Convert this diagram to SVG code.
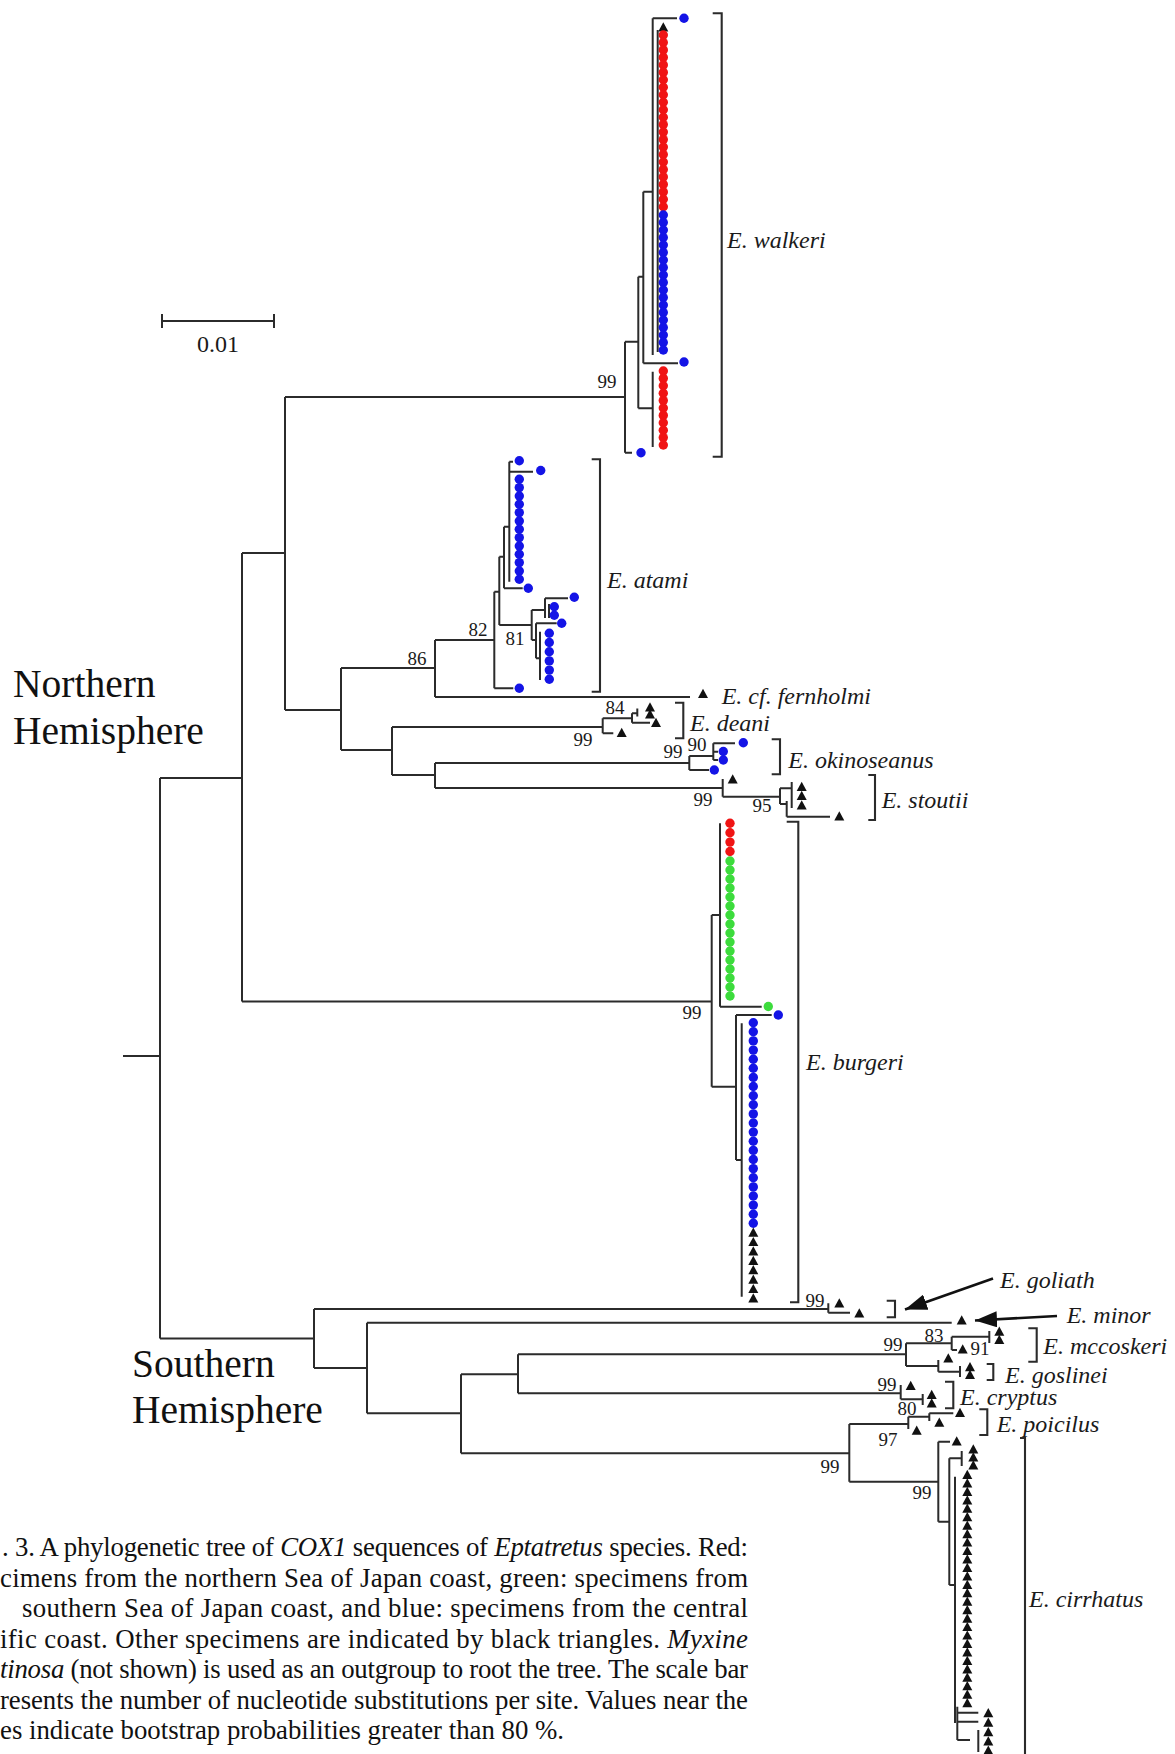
<svg xmlns="http://www.w3.org/2000/svg" xmlns:xlink="http://www.w3.org/1999/xlink" width="1175" height="1754" viewBox="0 0 1175 1754">
<style>
.br{fill:none;stroke:#2b2b2b;stroke-width:2}
.bk{fill:none;stroke:#2b2b2b;stroke-width:2.1}
.r{fill:#f01414}.b{fill:#1414e6}.g{fill:#3cdc3c}.k{fill:#111}
.sp{font-family:"Liberation Serif",serif;font-style:italic;font-size:24px;fill:#1a1a1a}
.bs{font-family:"Liberation Serif",serif;font-size:19px;fill:#1a1a1a;text-anchor:middle}
.hm{font-family:"Liberation Serif",serif;font-size:39.5px;fill:#111}
.cap{font-family:"Liberation Serif",serif;font-size:26.8px;fill:#111}
.it{font-style:italic}
.ar{fill:none;stroke:#111;stroke-width:2.6}
</style>
<defs>
<circle id="d" r="4.7"/>
<path id="t" d="M0,-5.2 L5,4 L-5,4Z"/>
<marker id="ah" markerUnits="userSpaceOnUse" markerWidth="24" markerHeight="16" refX="22" refY="8" orient="auto"><path d="M0,0 L22,8 L0,16Z" fill="#111"/></marker>
</defs>
<rect width="1175" height="1754" fill="#fff"/>

<g id="connectors" class="br">
<path d="M123,1056H160M160,778V1338.5M160,778H242M242,553V1001.5M242,553H285M285,397V710M285,397H625M285,710H341M341,668V750M341,668H435M435,640V697M435,640H494.3M435,697H690M341,750H392M392,727V775M392,727H602.7M392,775H435M435,763V788M435,763H689.3M435,788H722.7M242,1001.5H711.7"/>
<path d="M625,341.7V452.7M625,341.7H638.3M625,452.7H632M638.3,276.7V408.3M638.3,276.7H643.3M638.3,408.3H652.7M652.7,371.7V447M643.3,191.7V363.3M643.3,191.7H652.7M643.3,363.3H678M652.7,18.3V355M652.7,18.3H677M657.7,30V352"/>
<path d="M494.3,591.7V688.3M494.3,591.7H499.3M494.3,688.3H513.3M499.3,556.7V625M499.3,556.7H504M499.3,625H531.7M504,526.7V588.3M504,526.7H509.3M504,588.3H522.7M509.3,461.7V581.7M509.3,461.7H513M509.3,471.7H533M531.7,610V640M531.7,610H545M531.7,640H536M545,598.3V618M545,598.3H568M549,604V618M536,623.3V658.3M536,623.3H556.7M536,658.3H540M540,631.7V680"/>
<path d="M602.7,718.3V733.3M602.7,733.3H613.3M602.7,718.3H632M632,713.3V722.7M632,713.3H637.3M637.3,708.5V716.5M632,722.7H650"/>
<path d="M689.3,756V770M689.3,756H713.3M689.3,770H709M713.3,743.3V760M713.3,743.3H735M713.3,751.7H718M713.3,760H718"/>
<path d="M722.7,779V796.7M722.7,796.7H780M780,788.3V804M780,788.3H791.7M791.7,782V808M780,804H786.7M786.7,801V816.7M786.7,816.7H830"/>
<path d="M711.7,915V1086.7M711.7,915H720M720,823.3V1006.7M720,1006.7H761.7M711.7,1086.7H736M736,1015V1160M736,1015H771.7M736,1160H741.7M741.7,1023.3V1296.7"/>
<path d="M160,1338.5H314M314,1309V1368M314,1309H828.3M828.3,1303.3V1312.7M828.3,1312.7H850M314,1368H367M367,1322.7V1413.3M367,1322.7H951.7M367,1413.3H461M461,1374.3V1453.3M461,1374.3H518M518,1354.3V1393.3M518,1354.3H906M906,1343.3V1366M906,1343.3H951.7M951.7,1336.7V1350M951.7,1336.7H989.3M989.3,1331V1343M951.7,1350H957M906,1366H938.3M938.3,1360V1371.7M938.3,1371.7H960M960,1366V1377M518,1393.3H900.7M900.7,1385V1399.3M900.7,1399.3H922.7M922.7,1394V1405M461,1453.3H849.3M849.3,1424V1481.7M849.3,1424H908.3M908.3,1416.7V1429M908.3,1416.7H929.3M929.3,1413.3V1421M929.3,1413.3H953.3M849.3,1481.7H938.3M938.3,1441.7V1521.7M938.3,1441.7H950M938.3,1521.7H949.3M949.3,1458.3V1585M949.3,1458.3H961.7M961.7,1451V1466M949.3,1585H955M955,1476.7V1723M957.3,1706.7V1740M957.3,1712.7H978.3M957.3,1721.7H978.3M957.3,1740H970M978.3,1730V1752"/>
<path d="M162,321H274M162,314V328M274,314V328"/>
</g>

<g id="brackets" class="bk">
<path d="M712.7,13.3H721.7V456.7H712.7"/>
<path d="M591.7,459.3H600V691.7H591.7"/>
<path d="M675,702.7H683.3V738.3H675"/>
<path d="M771.7,739.3H780V774.3H771.7"/>
<path d="M868.3,775H875V820H868.3"/>
<path d="M786.7,821.7H798.3V1302.3H790"/>
<path d="M886.7,1300.7H895V1317.3H886.7"/>
<path d="M1028.3,1328.3H1036.7V1361.7H1028.3"/>
<path d="M986.7,1364H993.3V1380H986.7"/>
<path d="M945,1381.7H953.3V1408.3H945"/>
<path d="M979.3,1409.3H987.3V1435H979.3"/>
<path d="M1020,1438H1025V1754"/>
</g>

<g id="arrows">
<path class="ar" d="M993,1278.5L905,1309.5" marker-end="url(#ah)"/>
<path class="ar" d="M1057,1316L975,1320.5" marker-end="url(#ah)"/>
</g>

<g id="walkeri">
<use href="#d" class="b" x="684" y="18.3"/>
<use href="#t" class="k" x="663.3" y="27.5"/>
<g class="r">
<use href="#d" x="663.3" y="35"/><use href="#d" x="663.3" y="42.5"/><use href="#d" x="663.3" y="49.9"/><use href="#d" x="663.3" y="57.4"/><use href="#d" x="663.3" y="64.9"/><use href="#d" x="663.3" y="72.4"/><use href="#d" x="663.3" y="79.8"/><use href="#d" x="663.3" y="87.3"/><use href="#d" x="663.3" y="94.8"/><use href="#d" x="663.3" y="102.2"/><use href="#d" x="663.3" y="109.7"/><use href="#d" x="663.3" y="117.2"/><use href="#d" x="663.3" y="124.6"/><use href="#d" x="663.3" y="132.1"/><use href="#d" x="663.3" y="139.6"/><use href="#d" x="663.3" y="147.1"/><use href="#d" x="663.3" y="154.5"/><use href="#d" x="663.3" y="162"/><use href="#d" x="663.3" y="169.5"/><use href="#d" x="663.3" y="176.9"/><use href="#d" x="663.3" y="184.4"/><use href="#d" x="663.3" y="191.9"/><use href="#d" x="663.3" y="199.3"/><use href="#d" x="663.3" y="206.8"/>
</g>
<g class="b">
<use href="#d" x="663.3" y="215"/><use href="#d" x="663.3" y="222.5"/><use href="#d" x="663.3" y="230"/><use href="#d" x="663.3" y="237.5"/><use href="#d" x="663.3" y="245"/><use href="#d" x="663.3" y="252.5"/><use href="#d" x="663.3" y="260"/><use href="#d" x="663.3" y="267.5"/><use href="#d" x="663.3" y="275"/><use href="#d" x="663.3" y="282.5"/><use href="#d" x="663.3" y="290"/><use href="#d" x="663.3" y="297.5"/><use href="#d" x="663.3" y="305"/><use href="#d" x="663.3" y="312.5"/><use href="#d" x="663.3" y="320"/><use href="#d" x="663.3" y="327.5"/><use href="#d" x="663.3" y="335"/><use href="#d" x="663.3" y="342.5"/><use href="#d" x="663.3" y="350"/>
<use href="#d" x="684" y="362"/>
<use href="#d" x="641" y="452.7"/>
</g>
<g class="r">
<use href="#d" x="663.3" y="371"/><use href="#d" x="663.3" y="378.4"/><use href="#d" x="663.3" y="385.8"/><use href="#d" x="663.3" y="393.2"/><use href="#d" x="663.3" y="400.6"/><use href="#d" x="663.3" y="408"/><use href="#d" x="663.3" y="415.4"/><use href="#d" x="663.3" y="422.8"/><use href="#d" x="663.3" y="430.2"/><use href="#d" x="663.3" y="437.6"/><use href="#d" x="663.3" y="445"/>
</g>
<text class="sp" x="727" y="248">E. walkeri</text>
</g>

<g id="atami" class="b">
<use href="#d" x="519.3" y="460.7"/><use href="#d" x="540.7" y="470.5"/>
<use href="#d" x="519.3" y="479.3"/><use href="#d" x="519.3" y="487.6"/><use href="#d" x="519.3" y="496"/><use href="#d" x="519.3" y="504.3"/><use href="#d" x="519.3" y="512.6"/><use href="#d" x="519.3" y="521"/><use href="#d" x="519.3" y="529.3"/><use href="#d" x="519.3" y="537.6"/><use href="#d" x="519.3" y="546"/><use href="#d" x="519.3" y="554.3"/><use href="#d" x="519.3" y="562.6"/><use href="#d" x="519.3" y="571"/><use href="#d" x="519.3" y="579.3"/>
<use href="#d" x="528.3" y="588.3"/>
<use href="#d" x="574.3" y="597.3"/><use href="#d" x="554.3" y="606.7"/><use href="#d" x="554.3" y="615.3"/><use href="#d" x="561.7" y="623.3"/>
<use href="#d" x="549.3" y="633.3"/><use href="#d" x="549.3" y="642.5"/><use href="#d" x="549.3" y="651.7"/><use href="#d" x="549.3" y="660.9"/><use href="#d" x="549.3" y="670.1"/><use href="#d" x="549.3" y="679.3"/>
<use href="#d" x="519.3" y="688.3"/>
<text class="sp" x="607" y="588">E. atami</text>
</g>

<g id="fernholmi">
<use href="#t" class="k" x="703" y="694"/>
<text class="sp" x="721.7" y="704">E. cf. fernholmi</text>
</g>

<g id="deani" class="k">
<use href="#t" x="650" y="707.5"/><use href="#t" x="650" y="714.5"/><use href="#t" x="656" y="723"/><use href="#t" x="621.7" y="733"/>
<text class="sp" x="690" y="731">E. deani</text>
</g>

<g id="okinoseanus">
<g class="b"><use href="#d" x="743.3" y="742.7"/><use href="#d" x="723.3" y="751.5"/><use href="#d" x="723.3" y="760"/><use href="#d" x="714.3" y="770"/></g>
<text class="sp" x="788.3" y="768">E. okinoseanus</text>
</g>

<g id="stoutii" class="k">
<use href="#t" x="732.7" y="779.5"/><use href="#t" x="801.7" y="787"/><use href="#t" x="801.7" y="796"/><use href="#t" x="801.7" y="805.5"/><use href="#t" x="839.3" y="816.5"/>
<text class="sp" x="881.7" y="808">E. stoutii</text>
</g>

<g id="burgeri">
<g class="r"><use href="#d" x="730" y="823.3"/><use href="#d" x="730" y="832.7"/><use href="#d" x="730" y="842.1"/><use href="#d" x="730" y="851.5"/></g>
<g class="g"><use href="#d" x="730" y="861"/><use href="#d" x="730" y="870"/><use href="#d" x="730" y="879"/><use href="#d" x="730" y="888"/><use href="#d" x="730" y="897"/><use href="#d" x="730" y="906"/><use href="#d" x="730" y="915"/><use href="#d" x="730" y="924"/><use href="#d" x="730" y="933"/><use href="#d" x="730" y="942"/><use href="#d" x="730" y="951"/><use href="#d" x="730" y="960"/><use href="#d" x="730" y="969"/><use href="#d" x="730" y="978"/><use href="#d" x="730" y="987"/><use href="#d" x="730" y="996"/><use href="#d" x="768.3" y="1006.5"/></g>
<g class="b"><use href="#d" x="778.3" y="1015"/>
<use href="#d" x="753.3" y="1022.7"/><use href="#d" x="753.3" y="1031.8"/><use href="#d" x="753.3" y="1040.9"/><use href="#d" x="753.3" y="1050.1"/><use href="#d" x="753.3" y="1059.2"/><use href="#d" x="753.3" y="1068.3"/><use href="#d" x="753.3" y="1077.4"/><use href="#d" x="753.3" y="1086.5"/><use href="#d" x="753.3" y="1095.7"/><use href="#d" x="753.3" y="1104.8"/><use href="#d" x="753.3" y="1113.9"/><use href="#d" x="753.3" y="1123"/><use href="#d" x="753.3" y="1132.1"/><use href="#d" x="753.3" y="1141.3"/><use href="#d" x="753.3" y="1150.4"/><use href="#d" x="753.3" y="1159.5"/><use href="#d" x="753.3" y="1168.6"/><use href="#d" x="753.3" y="1177.7"/><use href="#d" x="753.3" y="1186.9"/><use href="#d" x="753.3" y="1196"/><use href="#d" x="753.3" y="1205.1"/><use href="#d" x="753.3" y="1214.2"/><use href="#d" x="753.3" y="1223.3"/></g>
<g class="k"><use href="#t" x="753.3" y="1232.7"/><use href="#t" x="753.3" y="1242.1"/><use href="#t" x="753.3" y="1251.5"/><use href="#t" x="753.3" y="1260.9"/><use href="#t" x="753.3" y="1270.3"/><use href="#t" x="753.3" y="1279.7"/><use href="#t" x="753.3" y="1289.1"/><use href="#t" x="753.3" y="1298.5"/></g>
<text class="sp" x="806" y="1070">E. burgeri</text>
</g>

<g id="goliath" class="k">
<use href="#t" x="839.3" y="1303.5"/><use href="#t" x="859.3" y="1313.5"/>
<text class="sp" x="1000" y="1288">E. goliath</text>
</g>
<g id="minor" class="k">
<use href="#t" x="961.7" y="1320.5"/>
<text class="sp" x="1066.7" y="1323">E. minor</text>
</g>
<g id="mccoskeri" class="k">
<use href="#t" x="999.3" y="1331.7"/><use href="#t" x="999.3" y="1340"/><use href="#t" x="962.7" y="1349.5"/>
<text class="sp" x="1043.3" y="1354">E. mccoskeri</text>
</g>
<g id="goslinei" class="k">
<use href="#t" x="948.3" y="1358.5"/><use href="#t" x="970" y="1367.3"/><use href="#t" x="970" y="1375"/>
<text class="sp" x="1005" y="1383">E. goslinei</text>
</g>
<g id="cryptus" class="k">
<use href="#t" x="910.7" y="1386"/><use href="#t" x="931.7" y="1395"/><use href="#t" x="931.7" y="1403.5"/>
<text class="sp" x="960" y="1405">E. cryptus</text>
</g>
<g id="poicilus" class="k">
<use href="#t" x="960" y="1413"/><use href="#t" x="939.3" y="1422.7"/><use href="#t" x="916.7" y="1430.7"/>
<text class="sp" x="996.7" y="1432">E. poicilus</text>
</g>
<g id="cirrhatus" class="k">
<use href="#t" x="956.7" y="1441.5"/>
<use href="#t" x="973.3" y="1449.5"/><use href="#t" x="973.3" y="1457.5"/><use href="#t" x="973.3" y="1465.5"/>
<use href="#t" x="967.3" y="1475"/><use href="#t" x="967.3" y="1483.5"/><use href="#t" x="967.3" y="1491.9"/><use href="#t" x="967.3" y="1500.4"/><use href="#t" x="967.3" y="1508.8"/><use href="#t" x="967.3" y="1517.3"/><use href="#t" x="967.3" y="1525.7"/><use href="#t" x="967.3" y="1534.2"/><use href="#t" x="967.3" y="1542.6"/><use href="#t" x="967.3" y="1551.1"/><use href="#t" x="967.3" y="1559.5"/><use href="#t" x="967.3" y="1568"/><use href="#t" x="967.3" y="1576.4"/><use href="#t" x="967.3" y="1584.9"/><use href="#t" x="967.3" y="1593.3"/><use href="#t" x="967.3" y="1601.8"/><use href="#t" x="967.3" y="1610.2"/><use href="#t" x="967.3" y="1618.7"/><use href="#t" x="967.3" y="1627.1"/><use href="#t" x="967.3" y="1635.6"/><use href="#t" x="967.3" y="1644"/><use href="#t" x="967.3" y="1652.5"/><use href="#t" x="967.3" y="1660.9"/><use href="#t" x="967.3" y="1669.4"/><use href="#t" x="967.3" y="1677.8"/><use href="#t" x="967.3" y="1686.3"/><use href="#t" x="967.3" y="1694.7"/><use href="#t" x="967.3" y="1703.2"/>
<use href="#t" x="988.3" y="1713.3"/><use href="#t" x="988.3" y="1722.7"/><use href="#t" x="988.3" y="1732.2"/><use href="#t" x="988.3" y="1741.5"/><use href="#t" x="988.3" y="1750.7"/>
<text class="sp" x="1029" y="1607">E. cirrhatus</text>
</g>

<g id="bootstrap" class="bs">
<text x="607" y="388">99</text>
<text x="417" y="665">86</text>
<text x="478" y="636">82</text>
<text x="515" y="645">81</text>
<text x="615" y="714">84</text>
<text x="583" y="746">99</text>
<text x="673" y="758">99</text>
<text x="697" y="751">90</text>
<text x="703" y="806">99</text>
<text x="762" y="812">95</text>
<text x="692" y="1019">99</text>
<text x="815" y="1307">99</text>
<text x="934" y="1342">83</text>
<text x="893" y="1351">99</text>
<text x="980" y="1355">91</text>
<text x="887" y="1391">99</text>
<text x="907" y="1415">80</text>
<text x="888" y="1446">97</text>
<text x="830" y="1473">99</text>
<text x="922" y="1499">99</text>
</g>

<g id="scale">
<text x="218" y="352" font-family="Liberation Serif, serif" font-size="24" text-anchor="middle" fill="#1a1a1a">0.01</text>
</g>

<g id="hemispheres" class="hm">
<text x="13" y="697">Northern</text>
<text x="13" y="744">Hemisphere</text>
<text x="132" y="1377">Southern</text>
<text x="132" y="1423">Hemisphere</text>
</g>

<g id="caption" class="cap">
<text x="2" y="1556" textLength="746" lengthAdjust="spacing">. 3. A phylogenetic tree of <tspan class="it">COX1</tspan> sequences of <tspan class="it">Eptatretus</tspan> species. Red:</text>
<text x="0" y="1586.5" textLength="748" lengthAdjust="spacing">cimens from the northern Sea of Japan coast, green: specimens from</text>
<text x="22" y="1617" textLength="726" lengthAdjust="spacing">southern Sea of Japan coast, and blue: specimens from the central</text>
<text x="0" y="1647.5" textLength="748" lengthAdjust="spacing">ific coast. Other specimens are indicated by black triangles. <tspan class="it">Myxine</tspan></text>
<text x="0" y="1678" textLength="748" lengthAdjust="spacing"><tspan class="it">tinosa</tspan> (not shown) is used as an outgroup to root the tree. The scale bar</text>
<text x="0" y="1708.5" textLength="748" lengthAdjust="spacing">resents the number of nucleotide substitutions per site. Values near the</text>
<text x="0" y="1739">es indicate bootstrap probabilities greater than 80 %.</text>
</g>
</svg>
